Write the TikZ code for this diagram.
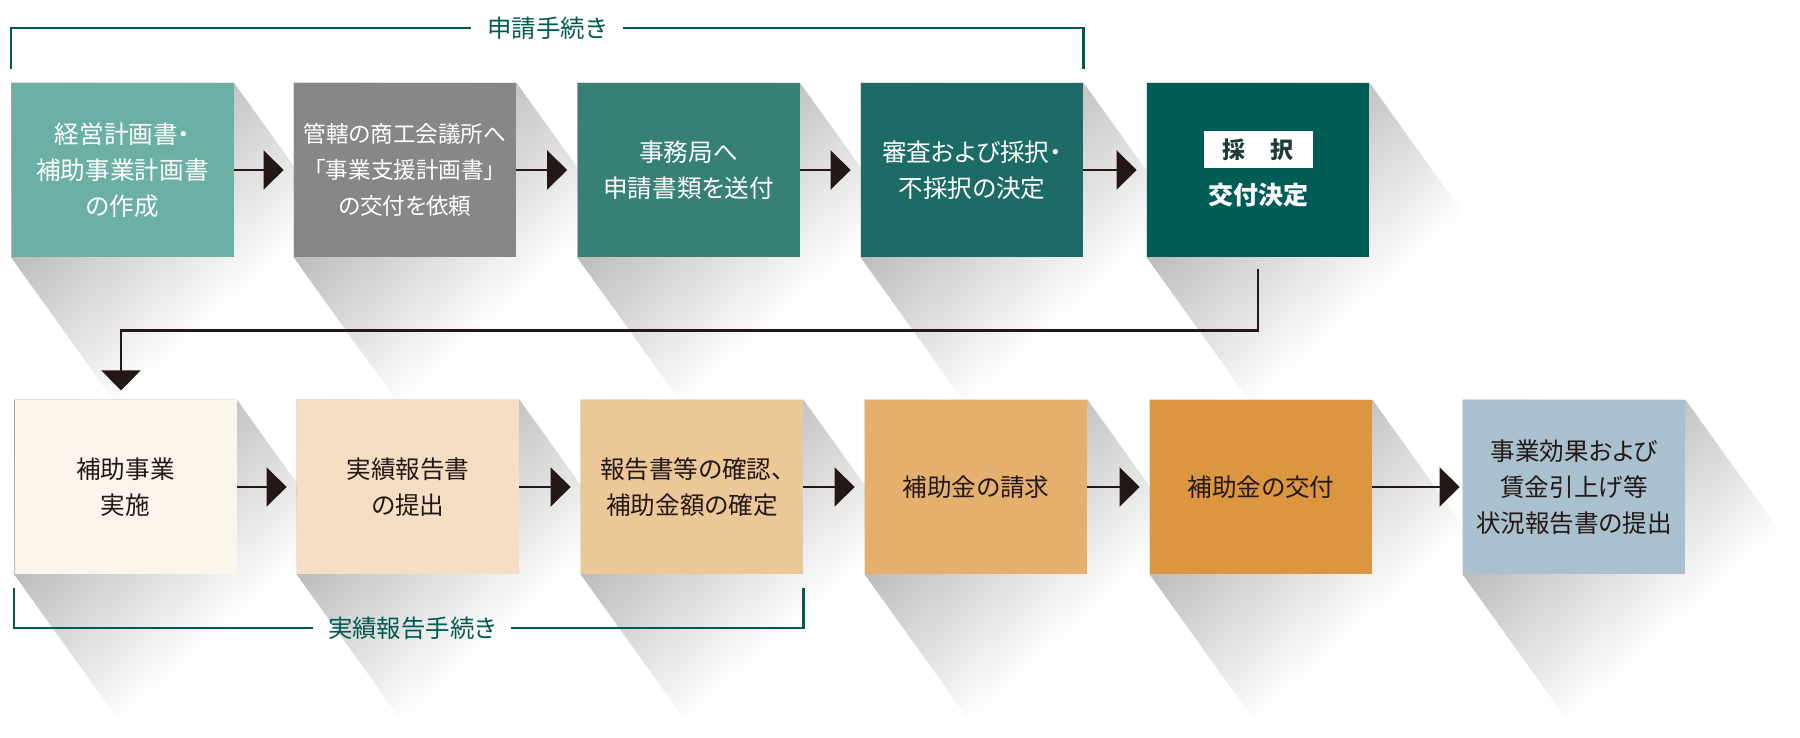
\documentclass[tikz,border=0pt]{standalone}
\usepackage{fontspec}
\newfontfamily\jpfont[RawFeature=+palt]{Noto Sans CJK JP}
\usetikzlibrary{arrows.meta,calc,backgrounds}
\definecolor{stepA}{HTML}{6CB0A5}
\definecolor{stepB}{HTML}{878787}
\definecolor{stepC}{HTML}{368075}
\definecolor{stepD}{HTML}{1C6B66}
\definecolor{stepE}{HTML}{005C56}
\definecolor{stepF}{HTML}{FCF5EC}
\definecolor{stepG}{HTML}{F5DEC3}
\definecolor{stepH}{HTML}{ECC798}
\definecolor{stepI}{HTML}{E5B06E}
\definecolor{stepJ}{HTML}{DC963F}
\definecolor{stepK}{HTML}{A9C0CF}
\definecolor{headteal}{HTML}{005A50}
\definecolor{pickink}{HTML}{1F3B38}
\definecolor{ink}{HTML}{231815}
\pgfdeclareverticalshading{longfade}{100bp}{color(0bp)=(white); color(42bp)=(white);
  color(67bp)=(black!26); color(100bp)=(black!46)}
\tikzstyle{stepbox}=[minimum width=111pt,minimum height=87pt,inner sep=0pt,align=center,font=\jpfont\fontsize{12.3pt}{18pt}\selectfont]
\tikzstyle{arr}=[line width=1.3pt,draw=ink,-{Triangle[length=10pt,width=19.5pt]}]

\begin{document}
\begin{tikzpicture}[x=0.5pt,y=-0.5pt]
    \tikzstyle{bracket}=[line width=1.15pt,draw=headteal]
    \tikzstyle{bracketlabel}=[text=headteal,inner xsep=8pt,font=\jpfont\fontsize{12.2pt}{14pt}\selectfont]
    \tikzstyle{longshadow}=[shading=longfade,shading angle=42]
    \useasboundingbox (0,0) rectangle (1800,738);
    % application steps
    \node[stepbox,fill=stepA,text=white] (b1) at (122.5,170) {経営計画書・\\補助事業計画書\\の作成};
    \node[stepbox,fill=stepB,text=white,font=\jpfont\fontsize{11.3pt}{18pt}\selectfont] (b2) at (405,170) {管轄の商工会議所へ\\「事業支援計画書」\\の交付を依頼};
    \node[stepbox,fill=stepC,text=white] (b3) at (688.5,170) {事務局へ\\申請書類を送付};
    \node[stepbox,fill=stepD,text=white] (b4) at (972,170)   {審査および採択・\\不採択の決定};
    \node[stepbox,fill=stepE] (b5) at (1258,170) {};
    \node[fill=white,text=pickink,minimum width=54.5pt,minimum height=18.5pt,inner sep=0pt,
          font=\jpfont\bfseries\fontsize{11.5pt}{14pt}\selectfont] (pick) at ([yshift=10.3pt]b5.center) {採\hspace{1.1em}択};
    \node[text=white,font=\jpfont\bfseries\fontsize{12.5pt}{15pt}\selectfont] (grant) at ([yshift=-12.5pt]b5.center) {交付決定};
    % report steps
    \node[stepbox,fill=stepF,text=ink] (b6)  at (125.5,487) {補助事業\\実施};
    \node[stepbox,fill=stepG,text=ink] (b7)  at (408,487)   {実績報告書\\の提出};
    \node[stepbox,fill=stepH,text=ink] (b8)  at (692,487)   {報告書等の確認、\\補助金額の確定};
    \node[stepbox,fill=stepI,text=ink] (b9)  at (976,487)   {補助金の請求};
    \node[stepbox,fill=stepJ,text=ink] (b10) at (1261,487)  {補助金の交付};
    \node[stepbox,fill=stepK,text=ink] (b11) at (1574,487)  {事業効果および\\賃金引上げ等\\状況報告書の提出};
    % long shadows
    \begin{scope}[on background layer]
      \fill[white] (0,0) rectangle (1800,738);
      \foreach \n in {b1,b2,b3,b4,b5,b6,b7,b8,b9,b10,b11}
        \shade[longshadow] (\n.north west) -- (\n.north east) -- ($(\n.north east)+(135,188)$)
          -- ($(\n.south east)+(135,188)$) -- ($(\n.south west)+(135,188)$) -- (\n.south west) -- cycle;
    \end{scope}
    % arrows
    \draw[arr] (b1.east) -- ([xshift=-5pt]b2.west);
    \draw[arr] (b2.east) -- ([xshift=-5pt]b3.west);
    \draw[arr] (b3.east) -- ([xshift=-5pt]b4.west);
    \draw[arr] (b4.east) -- ([xshift=-5pt]b5.west);
    \draw[arr] ([yshift=-6pt]b5.south) -- ++(0,61) -| ([xshift=-2.25pt,yshift=4.6pt]b6.north);
    \draw[arr] (b6.east) -- ([xshift=-5pt]b7.west);
    \draw[arr] (b7.east) -- ([xshift=-5pt]b8.west);
    \draw[arr] (b8.east) -- ([xshift=-5pt]b9.west);
    \draw[arr] (b9.east) -- ([xshift=-5pt]b10.west);
    \draw[arr] (b10.east) -- ([xshift=-1.5pt]b11.west);
    % brackets
    \node[bracketlabel] (apply) at (547,28) {申請手続き};
    \draw[bracket] ([yshift=7pt]b1.north west) |- (apply.west);
    \draw[bracket] ([yshift=7pt]b4.north east) |- (apply.east);
    \node[bracketlabel,inner xsep=7.5pt] (report) at (412,628) {実績報告手続き};
    \draw[bracket] ([yshift=-7pt]b6.south west) |- (report.west);
    \draw[bracket] ([yshift=-7pt]b8.south east) |- (report.east);
\end{tikzpicture}
\end{document}
